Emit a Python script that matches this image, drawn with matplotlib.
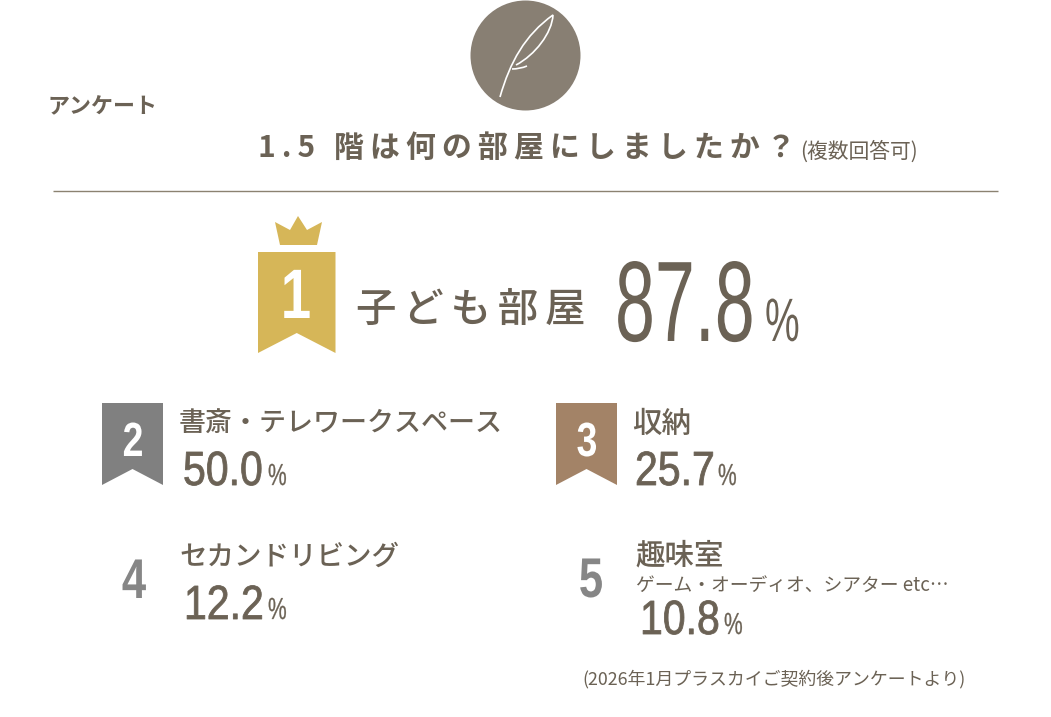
import matplotlib
matplotlib.use("Agg")
import matplotlib.pyplot as plt
from matplotlib.patches import Polygon, Circle, PathPatch
from matplotlib.path import Path
from matplotlib.patheffects import AbstractPathEffect
from matplotlib.transforms import Affine2D

# ---- data ----
ranks = [1, 2, 3, 4, 5]
categories = ["子ども部屋", "書斎・テレワークスペース", "収納", "セカンドリビング", "趣味室"]
values = [87.8, 50.0, 25.7, 12.2, 10.8]
header = "アンケート"
question = "1.5 階は何の部屋にしましたか？"
question_note = "(複数回答可)"
subnote = "ゲーム・オーディオ、シアター etc…"
source = "(2026年1月プラスカイご契約後アンケートより)"

# ---- layout (pixels) ----
W, H = 1051, 717
TXT = "#6b6255"
CJK = ["Noto Sans CJK JP", "DejaVu Sans"]
NUM = ["Liberation Sans", "DejaVu Sans"]
px = lambda p: p * 0.72
THIN = "\u2009"
SIX = "\u2006"

fig = plt.figure(figsize=(W / 100, H / 100), dpi=100)
ax = fig.add_axes([0, 0, 1, 1])
ax.set_xlim(0, W)
ax.set_ylim(H, 0)
ax.axis("off")


class Reshape(AbstractPathEffect):
    """Scale glyphs about the text's anchor point, with optional extra weight."""
    def __init__(self, x0, y0, sx=1.0, sy=1.0, lw=0.0):
        super().__init__()
        self.x0, self.y0, self.sx, self.sy, self.lw = x0, y0, sx, sy, lw

    def draw_path(self, renderer, gc, tpath, affine, rgbFace=None):
        xd, yd = ax.transData.transform((self.x0, self.y0))
        a = affine + Affine2D().translate(-xd, -yd).scale(self.sx, self.sy).translate(xd, yd)
        g = renderer.new_gc()
        g.copy_properties(gc)
        if self.lw > 0:
            g.set_linewidth(self.lw)
            g.set_foreground(rgbFace)
        else:
            g.set_linewidth(0)
        renderer.draw_path(g, tpath, a, rgbFace)
        g.restore()


def num_text(x, y, s, size, sx=1.0, sy=1.0, lw=0.0, color=TXT, weight="normal", ha="left"):
    t = ax.text(x, y, s, fontsize=px(size), family=NUM, color=color, va="baseline",
                ha=ha, weight=weight)
    t.set_path_effects([Reshape(x, y, sx, sy, lw)])
    return t


def cjk(x, y, s, size, weight="normal", color=TXT, spacing=""):
    if spacing:
        s = spacing.join(s)
    return ax.text(x, y, s, fontsize=px(size), family=CJK, color=color, va="center",
                   ha="left", weight=weight)


def ribbon(x0, x1, top, bot, notch, color):
    mid = (x0 + x1) / 2
    ax.add_patch(Polygon([(x0, top), (x1, top), (x1, bot), (mid, notch), (x0, bot)],
                         closed=True, fc=color, ec="none"))


# header block
ax.add_patch(Circle((525.5, 55.5), 55, fc="#887f73", ec="none"))
feather = Path([(500, 97), (510, 62), (525, 35), (553, 15),
                (552, 33), (535, 55), (516, 65),
                (512, 69), (520, 69), (527, 66)],
               [Path.MOVETO, Path.CURVE4, Path.CURVE4, Path.CURVE4,
                Path.CURVE4, Path.CURVE4, Path.CURVE4,
                Path.MOVETO, Path.CURVE3, Path.CURVE3])
ax.add_patch(PathPatch(feather, fc="none", ec="white", lw=1.2))

cjk(48, 107, header, 22, weight="bold")
cjk(258, 148, THIN.join(question), 30, weight="bold")
cjk(800, 152, question_note, 20.8)
ax.plot([53, 998], [190.5, 190.5], color="#8b8271", lw=1.0, solid_capstyle="butt")

# rank 1
ax.add_patch(Polygon([(275, 222), (290, 230), (298, 216), (307, 230), (322, 222),
                      (317, 245), (280, 245)], closed=True, fc="#d6b658", ec="none"))
ribbon(258, 335.5, 252, 353, 333, "#d6b658")
num_text(296, 318, str(ranks[0]), 70, sx=0.78, color="white", weight="bold", ha="center")
cjk(356, 310, categories[0], 40.5, weight="medium", spacing=SIX)
num_text(615, 341, f"{values[0]:.1f}", 69, sx=1.04, sy=1.66)
num_text(765, 341, "%", 39, sy=1.57)

# ranks 2-5
ribbon(102, 163, 403, 485, 469, "#808080")
ribbon(556, 617, 403, 485, 469, "#a38367")
num_text(133, 456, str(ranks[1]), 48, sx=0.78, color="white", weight="bold", ha="center")
num_text(587, 456, str(ranks[2]), 48, sx=0.78, color="white", weight="bold", ha="center")
num_text(134, 598, str(ranks[3]), 56, sx=0.78, color="#868686", weight="bold", ha="center")
num_text(591, 597, str(ranks[4]), 56, sx=0.78, color="#868686", weight="bold", ha="center")

cjk(179, 424, categories[1], 27, weight="medium")
cjk(632, 424, categories[2], 29.5, weight="medium")
cjk(179, 556, categories[3], 27.5, weight="medium")
cjk(635, 556, categories[4], 29.5, weight="medium")
cjk(636, 585, subnote, 18.8)
cjk(582, 679, source, 17.9)

for (x, y), v, xp in zip([(183, 485), (635, 485), (184, 619), (640, 634)], values[1:],
                         [268, 718, 268, 724]):
    num_text(x, y, f"{v:.1f}", 41, sy=1.17, lw=0.6)
    num_text(xp, y, "%", 21, sy=1.45, lw=0.2)

fig.savefig("out.png", dpi=100, facecolor="white")
